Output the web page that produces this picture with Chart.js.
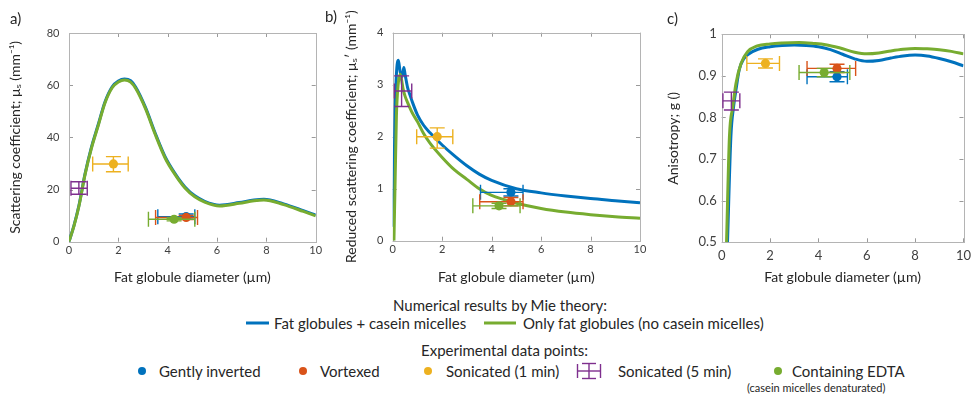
<!DOCTYPE html>
<html><head><meta charset="utf-8">
<script src="https://cdn.jsdelivr.net/npm/chart.js@4.4.1/dist/chart.umd.min.js"></script>
<style>
html,body{margin:0;padding:0;background:#fff;}
body{width:977px;height:395px;overflow:hidden;position:relative;font-family:Lato,"Noto Sans","DejaVu Sans",sans-serif;color:#262626;}
canvas{position:absolute;top:0;}
.t{position:absolute;white-space:nowrap;transform:translateY(-50%);font-size:15px;line-height:18px;}
.dot{position:absolute;width:8px;height:8px;border-radius:50%;transform:translate(-50%,-50%);}
.ln{position:absolute;height:3px;transform:translateY(-50%);}
</style></head>
<body>
<canvas id="ca" width="325" height="290" style="left:0"></canvas>
<canvas id="cb" width="325" height="290" style="left:325px"></canvas>
<canvas id="cc" width="327" height="290" style="left:650px"></canvas>

<div class="t" style="left:10px;top:18px">a)</div>
<div class="t" style="left:325px;top:16px">b)</div>
<div class="t" style="left:667px;top:18px">c)</div>

<div class="t" style="left:393px;top:305px">Numerical results by Mie theory:</div>
<div class="ln" style="left:246px;top:323px;width:23px;background:#0072BD"></div>
<div class="t" style="left:274px;top:323px">Fat globules + casein micelles</div>
<div class="ln" style="left:484px;top:323px;width:32px;background:#77AC30"></div>
<div class="t" style="left:523px;top:323px">Only fat globules (no casein micelles)</div>

<div class="t" style="left:421px;top:350px">Experimental data points:</div>
<div class="dot" style="left:142px;top:371px;background:#0072BD"></div>
<div class="t" style="left:159px;top:371px">Gently inverted</div>
<div class="dot" style="left:303px;top:371px;background:#D95319"></div>
<div class="t" style="left:320px;top:371px">Vortexed</div>
<div class="dot" style="left:428px;top:371px;background:#EDB120"></div>
<div class="t" style="left:446px;top:371px">Sonicated (1 min)</div>
<svg style="position:absolute;left:576px;top:362px" width="26" height="18" viewBox="0 0 26 18">
 <g stroke="#7E2F8E" stroke-width="1.4" fill="none">
  <line x1="1.5" y1="9" x2="24.5" y2="9"/><line x1="1.5" y1="2" x2="1.5" y2="16"/><line x1="24.5" y1="2" x2="24.5" y2="16"/>
  <line x1="13" y1="1.5" x2="13" y2="16.5"/><line x1="6" y1="1.5" x2="20" y2="1.5"/><line x1="6" y1="16.5" x2="20" y2="16.5"/>
 </g></svg>
<div class="t" style="left:618px;top:371px">Sonicated (5 min)</div>
<div class="dot" style="left:778px;top:371px;background:#77AC30"></div>
<div class="t" style="left:792px;top:371px">Containing EDTA</div>
<div class="t" style="left:747px;top:388px;font-size:11px">(casein micelles denaturated)</div>

<script>
// ---------- tick values / labels ----------
const xTicks = [0, 2, 4, 6, 8, 10];
const yTicksA = [0, 20, 40, 60, 80];
const yTicksB = [0, 1, 2, 3, 4];
const yTicksC = [0.5, 0.6, 0.7, 0.8, 0.9, 1];
const yLabelsC = ['0.5', '0.6', '0.7', '0.8', '0.9', '1'];

// ---------- series names ----------
const curveNames = ['Fat globules + casein micelles', 'Only fat globules (no casein micelles)'];
const pointNames = ['Gently inverted', 'Vortexed', 'Sonicated (1 min)', 'Sonicated (5 min)', 'Containing EDTA'];

// ---------- a) scattering coefficient ----------
const aDiam  = [0, 0.2, 0.4, 0.65, 0.9, 1.2, 1.45, 1.75, 2.0, 2.25, 2.5, 2.7, 3.1, 3.5, 3.9, 4.3, 4.7, 5.1, 5.5, 6.1, 6.9, 7.5, 7.9, 8.7, 9.5, 10];
const aBlue  = [0, 6.2, 13.8, 26.0, 35.9, 45.4, 53.4, 59.4, 61.6, 62.4, 61.7, 59.3, 51.5, 41.5, 32.5, 26.1, 21.0, 17.6, 15.5, 14.0, 15.0, 16.0, 16.3, 14.5, 11.9, 10.2];
const aGreen = [0, 6.0, 13.5, 25.7, 35.5, 45.0, 53.0, 59.0, 61.2, 62.0, 61.2, 58.8, 51.0, 41.0, 32.0, 25.7, 20.6, 17.2, 15.2, 13.7, 14.7, 15.7, 16.0, 14.2, 11.6, 9.9];
const aPtX   = [4.75, 4.75, 1.8, 0.4, 4.26];
const aPtY   = [9.6, 9.3, 29.8, 20.5, 8.6];
const aPtXlo = [3.6, 3.51, 0.96, 0.08, 3.22];
const aPtXhi = [5.1, 5.21, 2.4, 0.74, 5.1];
const aPtYlo = [8.6, 8.5, 26.8, 18.2, 8.0];
const aPtYhi = [10.6, 10.1, 32.6, 23.0, 9.2];

// ---------- b) reduced scattering coefficient ----------
const bDiamBlue  = [0, 0.05, 0.1, 0.15, 0.23, 0.3, 0.38, 0.45, 0.5, 0.6, 0.7, 0.8, 1, 1.25, 1.5, 2, 2.5, 3, 3.5, 4, 5, 6, 7, 8, 9, 10];
const bBlue      = [0.27, 1.2, 2.5, 3.2, 3.47, 3.25, 3.15, 3.33, 3.2, 2.95, 2.8, 2.66, 2.42, 2.22, 2.08, 1.84, 1.63, 1.44, 1.28, 1.16, 1.0, 0.92, 0.86, 0.81, 0.77, 0.73];
const bDiamGreen = [0.05, 0.1, 0.15, 0.22, 0.3, 0.35, 0.42, 0.5, 0.6, 0.7, 0.8, 1, 1.25, 1.5, 2, 2.5, 3, 3.5, 4, 4.5, 5, 6, 7, 8, 9, 10];
const bGreen     = [0, 1.2, 2.4, 3.0, 3.2, 3.12, 2.92, 2.78, 2.66, 2.55, 2.45, 2.29, 2.06, 1.88, 1.6, 1.36, 1.18, 1.0, 0.87, 0.79, 0.72, 0.62, 0.55, 0.5, 0.46, 0.43];
const bPtX   = [4.78, 4.78, 1.8, 0.36, 4.3];
const bPtY   = [0.93, 0.75, 2.0, 2.88, 0.67];
const bPtXlo = [3.55, 3.52, 0.97, 0.07, 3.24];
const bPtXhi = [5.27, 5.27, 2.43, 0.77, 5.15];
const bPtYlo = [0.86, 0.67, 1.78, 2.58, 0.62];
const bPtYhi = [1.0, 0.83, 2.17, 3.17, 0.72];

// ---------- c) anisotropy ----------
const cDiamBlue  = [0.24, 0.38, 0.5, 0.6, 0.73, 0.9, 1.1, 1.5, 2.0, 2.5, 3.0, 3.5, 4.0, 4.5, 5.0, 5.5, 6.0, 6.5, 7.0, 7.5, 8.0, 8.5, 9.0, 9.5, 10];
const cBlue      = [0.5, 0.754, 0.83, 0.87, 0.916, 0.94, 0.952, 0.964, 0.970, 0.973, 0.974, 0.973, 0.970, 0.963, 0.952, 0.941, 0.935, 0.937, 0.943, 0.948, 0.950, 0.948, 0.942, 0.934, 0.924];
const cDiamGreen = [0.2, 0.32, 0.46, 0.59, 0.8, 1.07, 1.47, 2.0, 2.5, 3.2, 3.8, 4.3, 4.9, 5.5, 6.0, 6.5, 7.0, 7.5, 8.0, 8.5, 9.0, 9.5, 10];
const cGreen     = [0.5, 0.754, 0.826, 0.882, 0.930, 0.958, 0.972, 0.977, 0.979, 0.980, 0.978, 0.975, 0.967, 0.957, 0.953, 0.955, 0.960, 0.964, 0.966, 0.965, 0.963, 0.959, 0.953];
const cPtX   = [4.77, 4.77, 1.81, 0.4, 4.24];
const cPtY   = [0.898, 0.918, 0.930, 0.84, 0.908];
const cPtXlo = [3.53, 3.53, 1.04, 0.05, 3.2];
const cPtXhi = [5.2, 5.54, 2.39, 0.75, 5.3];
const cPtYlo = [0.886, 0.908, 0.919, 0.818, 0.898];
const cPtYhi = [0.910, 0.928, 0.941, 0.861, 0.918];

// ---------- styles ----------
const curveColors = ['#0072BD', '#77AC30'];
const pointColors = ['#0072BD', '#D95319', '#EDB120', '#7E2F8E', '#77AC30'];
const FONT = 'Lato, "Noto Sans", "DejaVu Sans", sans-serif';

const framePlugin = {
  id: 'frame',
  beforeDatasetsDraw(chart) {
    const {ctx, chartArea: a, scales: {x, y}} = chart;
    const tl = 4;
    ctx.save();
    ctx.strokeStyle = '#9a9a9a';
    ctx.lineWidth = 1;
    ctx.beginPath();
    x.ticks.forEach(t => {
      const p = Math.round(x.getPixelForValue(t.value)) + 0.5;
      ctx.moveTo(p, a.bottom); ctx.lineTo(p, a.bottom - tl);
      ctx.moveTo(p, a.top); ctx.lineTo(p, a.top + tl);
    });
    y.ticks.forEach(t => {
      const p = Math.round(y.getPixelForValue(t.value)) + 0.5;
      ctx.moveTo(a.left, p); ctx.lineTo(a.left + tl, p);
      ctx.moveTo(a.right, p); ctx.lineTo(a.right - tl, p);
    });
    ctx.stroke();
    ctx.strokeStyle = '#b4b4b4';
    ctx.strokeRect(Math.round(a.left) + 0.5, Math.round(a.top) + 0.5, Math.round(a.right - a.left), Math.round(a.bottom - a.top));
    ctx.restore();
  }
};

const errPlugin = {
  id: 'errbars',
  beforeDatasetDraw(chart, args) {
    const ds = chart.data.datasets[args.index];
    if (!ds.err) return;
    const {ctx, scales: {x, y}} = chart;
    const cap = 7.5;
    ctx.save();
    ctx.strokeStyle = ds.borderColor;
    ctx.lineWidth = 1.4;
    ds.data.forEach((p, i) => {
      const e = ds.err[i];
      const px = x.getPixelForValue(p.x), py = y.getPixelForValue(p.y);
      const xl = x.getPixelForValue(e.xlo), xh = x.getPixelForValue(e.xhi);
      const yl = y.getPixelForValue(e.ylo), yh = y.getPixelForValue(e.yhi);
      ctx.beginPath();
      ctx.moveTo(xl, py); ctx.lineTo(xh, py);
      ctx.moveTo(xl, py - cap); ctx.lineTo(xl, py + cap);
      ctx.moveTo(xh, py - cap); ctx.lineTo(xh, py + cap);
      ctx.moveTo(px, yl); ctx.lineTo(px, yh);
      ctx.moveTo(px - cap, yl); ctx.lineTo(px + cap, yl);
      ctx.moveTo(px - cap, yh); ctx.lineTo(px + cap, yh);
      ctx.stroke();
    });
    ctx.restore();
  }
};

function zip(xs, ys) { return xs.map((v, i) => ({x: v, y: ys[i]})); }

function makePanel(id, g) {
  const pts = [];
  for (let i = pointNames.length - 1; i >= 0; i--) {
    pts.push({
      type: 'scatter',
      label: pointNames[i],
      data: [{x: g.ptX[i], y: g.ptY[i]}],
      err: [{xlo: g.ptXlo[i], xhi: g.ptXhi[i], ylo: g.ptYlo[i], yhi: g.ptYhi[i]}],
      borderColor: pointColors[i],
      backgroundColor: pointColors[i],
      pointRadius: i === 3 ? 0 : 4.6,
      pointBorderWidth: 0,
      clip: false
    });
  }
  const lines = [
    {type: 'line', label: curveNames[1], data: zip(g.dg, g.yg), borderColor: curveColors[1], borderWidth: 3, pointRadius: 0, cubicInterpolationMode: 'monotone', fill: false},
    {type: 'line', label: curveNames[0], data: zip(g.db, g.yb), borderColor: curveColors[0], borderWidth: 3, pointRadius: 0, cubicInterpolationMode: 'monotone', fill: false}
  ];
  return new Chart(document.getElementById(id), {
    type: 'scatter',
    data: {datasets: pts.concat(lines)},
    options: {
      responsive: false, animation: false, events: [],
      layout: {padding: {left: 0, right: g.padR, top: g.padT, bottom: 0}},
      plugins: {legend: {display: false}, tooltip: {enabled: false}},
      scales: {
        x: {
          type: 'linear', min: 0, max: 10,
          afterBuildTicks: s => { s.ticks = xTicks.map(v => ({value: v})); },
          afterFit: s => { s.height = g.xH; },
          grid: {display: false, drawTicks: false}, border: {display: false},
          ticks: {padding: g.xTickPad, color: '#404040', font: {family: FONT, size: g.tickSize}, maxRotation: 0, callback: v => String(v)},
          title: {display: true, text: 'Fat globule diameter (µm)', color: '#262626', font: {family: FONT, size: 14}, padding: {top: 0, bottom: 4}}
        },
        y: {
          type: 'linear', min: g.yTicks[0], max: g.yTicks[g.yTicks.length - 1],
          afterBuildTicks: s => { s.ticks = g.yTicks.map(v => ({value: v})); },
          afterFit: s => { s.width = g.yW; },
          grid: {display: false, drawTicks: false}, border: {display: false},
          ticks: {padding: g.yTickPad, color: '#404040', font: {family: FONT, size: g.tickSize},
                  callback: (v) => { const k = g.yTicks.indexOf(v); return g.yLabels ? g.yLabels[k] : String(v); }},
          title: {display: true, text: g.yTitle, color: '#262626', font: {family: FONT, size: 14}, padding: {top: g.yTitlePad, bottom: 0}}
        }
      }
    },
    plugins: [framePlugin, errPlugin]
  });
}

makePanel('ca', {
  db: aDiam, yb: aBlue, dg: aDiam, yg: aGreen,
  ptX: aPtX, ptY: aPtY, ptXlo: aPtXlo, ptXhi: aPtXhi, ptYlo: aPtYlo, ptYhi: aPtYhi,
  yTicks: yTicksA, yTitle: 'Scattering coefficient; μₛ (mm⁻¹)',
  padR: 9.3, padT: 33, xH: 48.3, yW: 69, xTickPad: 2, yTickPad: 9.5, tickSize: 11, yTitlePad: 6.6
});
makePanel('cb', {
  db: bDiamBlue, yb: bBlue, dg: bDiamGreen, yg: bGreen,
  ptX: bPtX, ptY: bPtY, ptXlo: bPtXlo, ptXhi: bPtXhi, ptYlo: bPtYlo, ptYhi: bPtYhi,
  yTicks: yTicksB, yTitle: 'Reduced scattering coefficient; μₛ′ (mm⁻¹)',
  padR: 10, padT: 32.7, xH: 49.3, yW: 67.7, xTickPad: 2, yTickPad: 9.4, tickSize: 11, yTitlePad: 18.3
});
makePanel('cc', {
  db: cDiamBlue, yb: cBlue, dg: cDiamGreen, yg: cGreen,
  ptX: cPtX, ptY: cPtY, ptXlo: cPtXlo, ptXhi: cPtXhi, ptYlo: cPtYlo, ptYhi: cPtYhi,
  yTicks: yTicksC, yLabels: yLabelsC, yTitle: 'Anisotropy; g ()',
  padR: 8.7, padT: 34.3, xH: 47.7, yW: 71.7, xTickPad: 6, yTickPad: 5, tickSize: 13, yTitlePad: 14.6
});
</script>
</body></html>
